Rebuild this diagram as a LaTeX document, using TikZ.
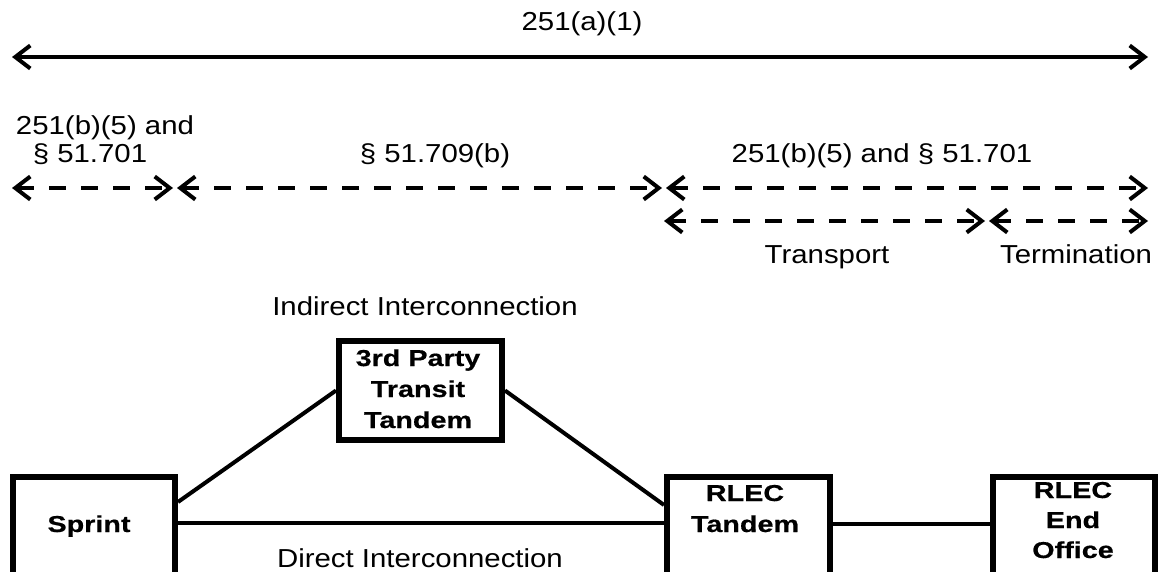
\documentclass[tikz,border=0pt]{standalone}
\usepackage{fontspec}
\setmainfont{Liberation Sans}
\newfontfamily\regx{Liberation Sans}[FakeStretch=1.13]
\newfontfamily\boldx{Liberation Sans Bold}[FakeStretch=1.25, FakeBold=0.6]
\usetikzlibrary{arrows.meta}
\begin{document}
\begin{tikzpicture}[x=1pt,y=-1pt,
  lbl/.style={font=\regx\fontsize{26}{28}\selectfont, inner sep=0pt, anchor=base},
  blbl/.style={font=\boldx\fontsize{23}{31}\selectfont, inner sep=0pt, align=center, anchor=base},
  box/.style={draw, line width=6pt, inner sep=0pt, anchor=north west},
  conn/.style={line width=4pt},
  dim/.style={line width=4pt, {Straight Barb[length=15pt,width=23pt,line width=4pt]}-{Straight Barb[length=15pt,width=23pt,line width=4pt]}},
  ddim/.style={dim, dash pattern=on 17pt off 15pt},
]
\useasboundingbox (0,0) rectangle (1165,572);
\clip (0,0) rectangle (1165,572);
% top arrow
\coordinate (a1l) at (12,57);
\coordinate (a1r) at (1148,57);
\draw[dim] (a1l) -- (a1r);
\node[lbl] (t1) at (582,31) {251(a)(1)};
% dashed row 1
\coordinate (d1a) at (12,188);
\coordinate (d1b) at (173,188);
\coordinate (d1c) at (177,188);
\coordinate (d1d) at (662,188);
\coordinate (d1e) at (666,188);
\coordinate (d1f) at (1148,188);
\draw[ddim] (d1a) -- (d1b);
\draw[ddim] (d1c) -- (d1d);
\draw[ddim] (d1e) -- (d1f);
\node[lbl] (t2a) at (105,135) {251(b)(5) and};
\node[lbl] (t2b) at (90,163) {\S\ 51.701};
\node[lbl] (t3) at (435,163) {\S\ 51.709(b)};
\node[lbl] (t4) at (882,163) {251(b)(5) and \S\ 51.701};
% dashed row 2
\coordinate (d2a) at (664,221);
\coordinate (d2b) at (985,221);
\coordinate (d2c) at (989,221);
\coordinate (d2d) at (1148,221);
\draw[ddim] (d2a) -- (d2b);
\draw[ddim] (d2c) -- (d2d);
\node[lbl] (t5) at (827,263) {Transport};
\node[lbl] (t6) at (1076,263) {Termination};
% boxes
\node[box, minimum width=163pt, minimum height=99pt] (tp) at (336,338) {};
\node[blbl] (tpt) at (418,428) {3rd Party\\Transit\\Tandem};
\node[box, minimum width=162pt, minimum height=130pt] (sp) at (10,474) {};
\node[blbl] (spt) at (89,532) {Sprint};
\node[box, minimum width=163pt, minimum height=130pt] (rt) at (664,474) {};
\node[blbl] (rtt) at (745,532) {RLEC\\Tandem};
\node[box, minimum width=162pt, minimum height=130pt] (re) at (990,474) {};
\node[blbl, font=\boldx\fontsize{23}{30}\selectfont] (ret) at (1073,558) {RLEC\\End\\Office};
\node[lbl] (t7) at (425,315) {Indirect Interconnection};
\node[lbl] (t8) at (420,567) {Direct Interconnection};
% connectors
\draw[conn] ([yshift=-28pt]sp.north east) -- (tp.west);
\draw[conn] (tp.east) -- ([yshift=-31pt]rt.north west);
\draw[conn] ([yshift=-49pt]sp.north east) -- ([yshift=-49pt]rt.north west);
\draw[conn] ([yshift=-50pt]rt.north east) -- ([yshift=-50pt]re.north west);
\end{tikzpicture}
\end{document}
